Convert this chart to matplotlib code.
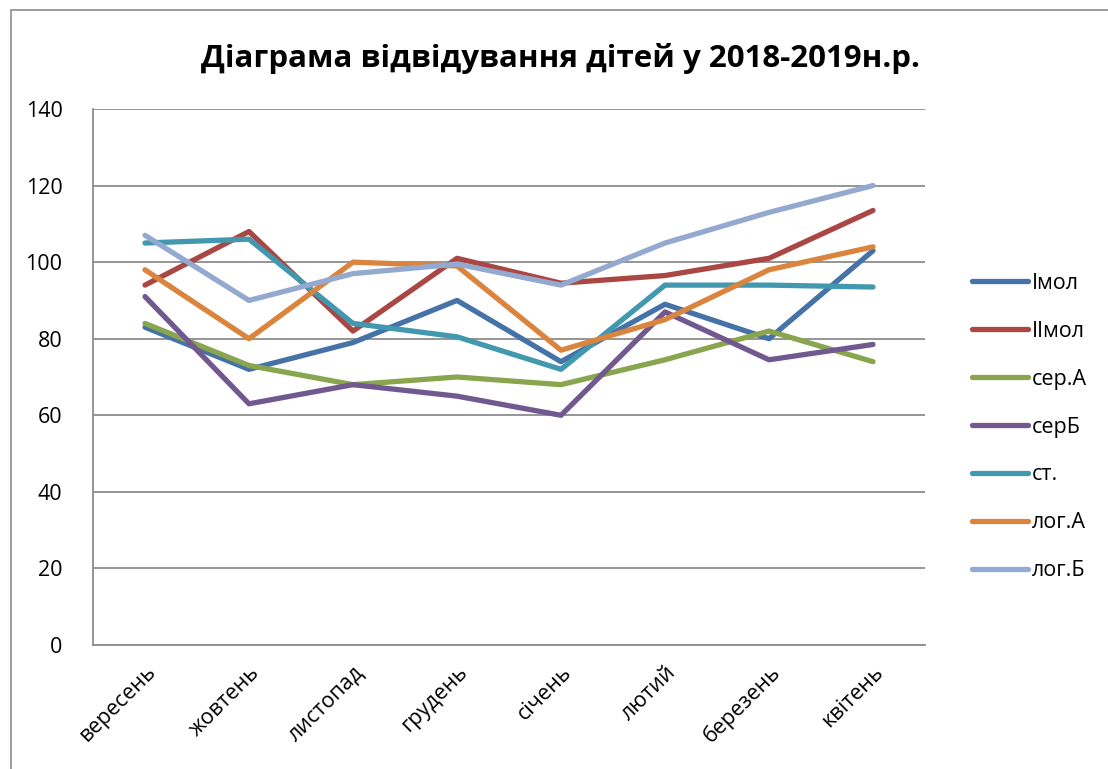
import matplotlib.pyplot as plt
from matplotlib.patches import Rectangle

months = ["вересень", "жовтень", "листопад", "грудень",
          "січень", "лютий", "березень", "квітень"]

i_mol = [83, 72, 79, 90, 74, 89, 80, 103]
ii_mol = [94, 108, 82, 101, 94.5, 96.5, 101, 113.5]
ser_a = [84, 73, 68, 70, 68, 74.5, 82, 74]
ser_b = [91, 63, 68, 65, 60, 87, 74.5, 78.5]
st = [105, 106, 84, 80.5, 72, 94, 94, 93.5]
log_a = [98, 80, 100, 99, 77, 85, 98, 104]
log_b = [107, 90, 97, 99.5, 94, 105, 113, 120]

series = [("Імол", i_mol), ("ІІмол", ii_mol), ("сер.А", ser_a), ("серБ", ser_b),
          ("ст.", st), ("лог.А", log_a), ("лог.Б", log_b)]
colors = ["#4572A7", "#AA4643", "#89A54E", "#71588F", "#4198AF", "#DB843D", "#93A9CF"]

plt.rcParams['font.family'] = ['Open Sans', 'DejaVu Sans']

fig = plt.figure(figsize=(11.08, 7.69), dpi=100)
# outer chart frame
fig.patches.append(Rectangle((11 / 1108, -0.05), 1.2, 1 - 10 / 769 + 0.05,
                             transform=fig.transFigure, fill=False,
                             edgecolor="#8c8c8c", lw=1.2))

ax = fig.add_axes([93 / 1108, 1 - 645 / 769, 832 / 1108, 536 / 769])
x = list(range(len(months)))
for (name, vals), c in zip(series, colors):
    ax.plot(x, vals, color=c, lw=3.8, label=name, solid_capstyle="round",
            solid_joinstyle="round")

ax.set_xlim(-0.5, len(months) - 0.5)
ax.set_ylim(0, 140)
ax.set_yticks(range(0, 141, 20))
ax.set_xticks(x)
ax.set_xticklabels(months, rotation=45, ha="right", rotation_mode="anchor", fontsize=15.5)
ax.tick_params(axis="both", length=0, labelsize=15.5)
ax.tick_params(axis="y", pad=22)
ax.tick_params(axis="x", pad=12)
ax.grid(axis="y", color="#8c8c8c", lw=1.3)
ax.set_axisbelow(True)
for s in ("top", "right"):
    ax.spines[s].set_visible(False)
for s in ("left", "bottom"):
    ax.spines[s].set_color("#8c8c8c")
    ax.spines[s].set_linewidth(1.3)

fig.text(560 / 1108, 1 - 58 / 769, "Діаграма відвідування дітей у 2018-2019н.р.",
         ha="center", va="center", fontsize=22.5, fontweight="bold")

leg = ax.legend(loc="center left", bbox_to_anchor=(953 / 1108, 1 - 427 / 769),
                bbox_transform=fig.transFigure, frameon=False, fontsize=15.5,
                handlelength=2.6, handletextpad=0.15, labelspacing=1.25)

fig.savefig("out.png", dpi=100)
